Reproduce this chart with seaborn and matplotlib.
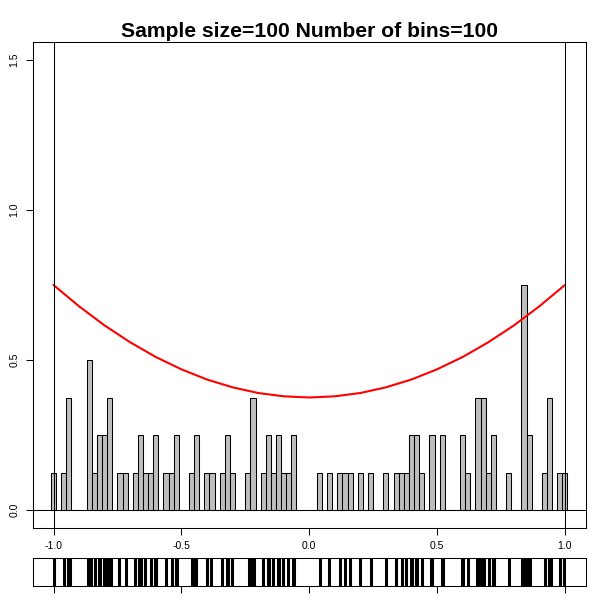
import numpy as np
import pandas as pd
import matplotlib
matplotlib.use("Agg")
import matplotlib.pyplot as plt
import seaborn as sns

sample = [
    -0.998, -0.957, -0.944, -0.940, -0.936,
    -0.865, -0.861, -0.857, -0.853, -0.838,
    -0.822, -0.818, -0.802, -0.797, -0.785, -0.781, -0.776,
    -0.742, -0.718, -0.682, -0.664, -0.658, -0.641, -0.619,
    -0.603, -0.598, -0.561, -0.537, -0.522, -0.517,
    -0.459, -0.446, -0.441, -0.400, -0.383,
    -0.341, -0.323, -0.318, -0.303, -0.237,
    -0.224, -0.220, -0.216, -0.181, -0.163, -0.159, -0.141,
    -0.123, -0.118, -0.102, -0.083, -0.064, -0.059,
    0.041, 0.079, 0.121, 0.139, 0.161, 0.198, 0.242,
    0.302, 0.338, 0.361, 0.379, 0.397, 0.402, 0.418, 0.423,
    0.441, 0.477, 0.482, 0.518, 0.523, 0.598, 0.603, 0.619,
    0.656, 0.660, 0.664, 0.676, 0.680, 0.684, 0.702, 0.718, 0.722,
    0.781, 0.832, 0.835, 0.838, 0.842, 0.845, 0.848, 0.858, 0.862,
    0.921, 0.936, 0.940, 0.944, 0.979, 0.997,
]
obs_height = 0.125

# red density curve
curve_x = [-1.0, -0.9, -0.8, -0.7, -0.6, -0.5, -0.4, -0.3, -0.2, -0.1, 0.0,
           0.1, 0.2, 0.3, 0.4, 0.5, 0.6, 0.7, 0.8, 0.9, 1.0]
curve_y = [0.750, 0.679, 0.615, 0.559, 0.510, 0.469, 0.435, 0.409, 0.390, 0.379, 0.375,
           0.379, 0.390, 0.409, 0.435, 0.469, 0.510, 0.559, 0.615, 0.679, 0.750]

x_ticks = [-1.0, -0.5, 0.0, 0.5, 1.0]
x_tick_labels = ["-1.0", "-0.5", "0.0", "0.5", "1.0"]
y_ticks = [0.0, 0.5, 1.0, 1.5]
y_tick_labels = ["0.0", "0.5", "1.0", "1.5"]
title = "Sample size=100 Number of bins=100"

bin_edges = [round(v, 4) for v in np.linspace(-1.01, 1.01, 102)]

sns.set_style("white")
plt.rcParams["font.family"] = ["Liberation Sans", "DejaVu Sans"]

df = pd.DataFrame({"x": sample})
df["w"] = obs_height

fig = plt.figure(figsize=(6, 6), dpi=100)
ax = fig.add_axes([0.0555, 0.1195, 0.921, 0.81])
ax_rug = fig.add_axes([0.0555, 0.0233, 0.921, 0.0472])

# histogram
sns.histplot(data=df, x="x", weights="w", bins=bin_edges, stat="count",
             color="#BEBEBE", edgecolor="black", linewidth=0.75, alpha=1,
             ax=ax, zorder=2)

# density curve
sns.lineplot(x=curve_x, y=curve_y, color="red", linewidth=1.5, ax=ax, zorder=3)

ax.axvline(-1.0, color="black", lw=0.75, zorder=4)
ax.axvline(1.0, color="black", lw=0.75, zorder=4)
ax.axhline(0.0, color="black", lw=0.75, zorder=4)

ax.set_xlim(-1.079, 1.082)
ax.set_ylim(-0.061, 1.559)
ax.set_xticks(x_ticks)
ax.set_xticklabels(x_tick_labels)
ax.set_yticks(y_ticks)
ax.set_yticklabels(y_tick_labels, rotation=90, va="center")
ax.set_xlabel("")
ax.set_ylabel("")
ax.tick_params(axis="both", direction="out", length=5, width=0.75,
               labelsize=7.5, color="black", labelcolor="black",
               bottom=True, left=True)
ax.tick_params(axis="x", pad=4.5)
ax.tick_params(axis="y", pad=5)
for s in ax.spines.values():
    s.set_visible(True)
    s.set_color("black")
    s.set_linewidth(0.75)
ax.set_title(title, fontsize=15.2, fontweight="bold", color="black", pad=4)

# rug strip
sns.rugplot(x=sample, height=1, color="black", linewidth=2.2, ax=ax_rug,
            expand_margins=False)
ax_rug.set_xlim(-1.079, 1.082)
ax_rug.set_ylim(0, 1)
ax_rug.set_xticks(x_ticks)
ax_rug.set_xticklabels([])
ax_rug.set_yticks([])
ax_rug.tick_params(axis="x", direction="out", length=5, width=0.75,
                   color="black", bottom=True)
for s in ax_rug.spines.values():
    s.set_visible(True)
    s.set_color("black")
    s.set_linewidth(0.75)

fig.savefig("out.png", dpi=100)
